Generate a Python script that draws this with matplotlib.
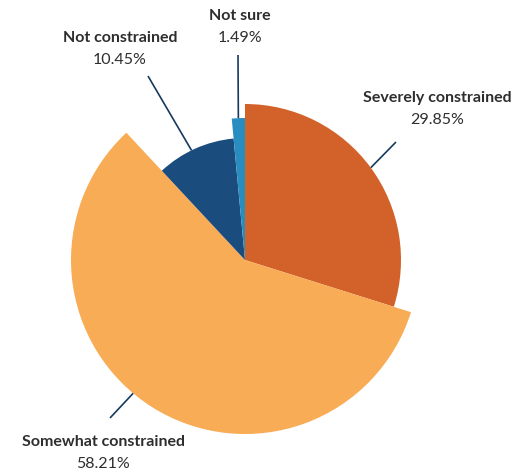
import numpy as np
import matplotlib.pyplot as plt

# --- Survey shares ---
categories = ["Severely constrained", "Somewhat constrained", "Not constrained", "Not sure"]
shares = [29.85, 58.21, 10.45, 1.49]

# per-slice radius (pixels) for the variable-radius pie
radii = [156, 174, 122, 142]
colors = ["#D2622A", "#F8AC55", "#1B4C7E", "#2A8DBF"]

# label anchors (pixel coords, y down) and connector geometry:
# (label x, label y of name line, connector angle from top, connector end x, end y)
label_layout = [
    (437, 98, None, 396, 142),
    (103, 442, 220.0, 110, 418),
    (120, 38, 334.0, 148, 76),
    (240, 16, None, 238, 55),
]

W, H = 518, 474
CX, CY = 245, 260
TEXT = "#2E2E2E"
LINE = "#163A5E"

plt.rcParams["font.family"] = ["Lato", "DejaVu Sans"]

fig = plt.figure(figsize=(W / 100, H / 100), dpi=100)
ax = fig.add_axes([0, 0, 1, 1])

wedges, _ = ax.pie(shares, colors=colors, startangle=90, counterclock=False,
                   center=(CX, H - CY), radius=1, wedgeprops=dict(linewidth=0))
for w, r in zip(wedges, radii):
    w.set_radius(r)

ax.set_xlim(0, W)
ax.set_ylim(0, H)
ax.set_aspect("equal")
ax.axis("off")


def edge_point(angle_from_top, r):
    a = np.radians(angle_from_top)
    return CX + r * np.sin(a), CY - r * np.cos(a)


for w, r, name, val, (lx, ly, ang, ex, ey) in zip(wedges, radii, categories, shares, label_layout):
    if ang is None:
        ang = 90 - (w.theta1 + w.theta2) / 2
    sx, sy = edge_point(ang, r)
    ax.plot([sx, ex], [H - sy, H - ey], color=LINE, lw=1.2, solid_capstyle="butt")
    ax.text(lx, H - ly, name, ha="center", va="center", fontsize=11.5,
            fontweight="bold", color=TEXT)
    ax.text(lx, H - ly - 22, f"{val:.2f}%", ha="center", va="center",
            fontsize=11.5, color=TEXT)

fig.savefig("out.png", dpi=100)
